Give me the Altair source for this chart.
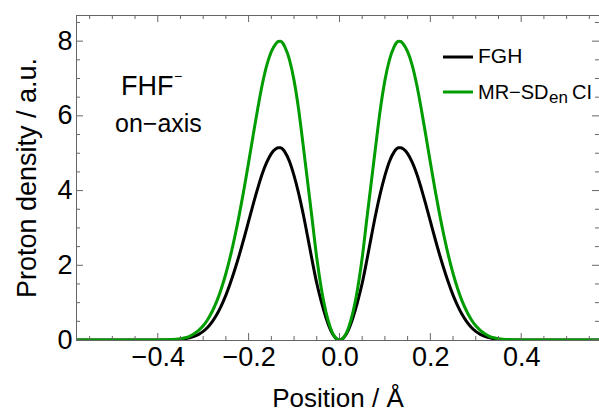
import altair as alt
import pandas as pd

# On-axis proton density, right half (x >= 0); the profile is symmetric about x = 0
half_pos = [0.00, 0.01, 0.02, 0.03, 0.04, 0.05, 0.06, 0.07, 0.08, 0.09,
            0.10, 0.11, 0.12, 0.125, 0.13, 0.135, 0.14, 0.15, 0.16, 0.17,
            0.18, 0.19, 0.20, 0.21, 0.22, 0.23, 0.24, 0.25, 0.26, 0.27,
            0.28, 0.29, 0.30, 0.31, 0.32, 0.33, 0.34, 0.35, 0.36, 0.38,
            0.40, 0.45, 0.50, 0.58]
fgh_half = [0.00, 0.07, 0.28, 0.61, 1.03, 1.52, 2.12, 2.76, 3.38, 3.93,
            4.40, 4.78, 5.03, 5.11, 5.145, 5.148, 5.12, 4.99, 4.76, 4.45,
            4.06, 3.63, 3.18, 2.73, 2.30, 1.90, 1.53, 1.20, 0.92, 0.68,
            0.49, 0.34, 0.23, 0.15, 0.095, 0.058, 0.034, 0.019, 0.010, 0.003,
            0.001, 0.0, 0.0, 0.0]
mrci_half = [0.00, 0.08, 0.33, 0.76, 1.38, 2.20, 3.22, 4.22, 5.22, 6.18,
             6.95, 7.50, 7.84, 7.95, 8.00, 7.99, 7.93, 7.72, 7.36, 6.84,
             6.19, 5.48, 4.76, 4.05, 3.39, 2.79, 2.25, 1.78, 1.38, 1.04,
             0.77, 0.55, 0.38, 0.26, 0.17, 0.10, 0.06, 0.035, 0.02, 0.006,
             0.002, 0.0, 0.0, 0.0]

x_major = [-0.4, -0.2, 0.0, 0.2, 0.4]
x_minor = [-0.55, -0.5, -0.45, -0.35, -0.3, -0.25, -0.15, -0.1, -0.05,
           0.05, 0.1, 0.15, 0.25, 0.3, 0.35, 0.45, 0.5, 0.55]
y_major = [0, 2, 4, 6, 8]
y_minor = [0.5, 1, 1.5, 2.5, 3, 3.5, 4.5, 5, 5.5, 6.5, 7, 7.5, 8.5]

W, H = 523, 325
FONT = "Liberation Sans"
FRAME = "#666666"
GREEN = "#009c00"


def full_profile(half_x, half_y):
    xs = [-v for v in reversed(half_x[1:])] + half_x
    ys = list(reversed(half_y[1:])) + half_y
    return pd.DataFrame({"pos": xs, "density": ys})


fgh = full_profile(half_pos, fgh_half)
mrci = full_profile(half_pos, mrci_half)

xscale = alt.Scale(domain=[-0.58, 0.5713], nice=False, zero=False)
yscale = alt.Scale(domain=[0, 8.7], nice=False, zero=False)

x_axis = alt.Axis(values=x_major, format=".1f", title="Position / Å",
                  ticks=False, domain=False, grid=False, labelFlush=False,
                  labelOverlap=False, labelPadding=4, titlePadding=15,
                  titleFontSize=26)
y_axis = alt.Axis(values=y_major, format="d", title="Proton density / a.u.",
                  ticks=False, domain=False, grid=False, labelFlush=False,
                  labelOverlap=False, labelPadding=4, titlePadding=15)


def X(field):
    return alt.X(field, scale=xscale, axis=x_axis)


def Y(field):
    return alt.Y(field, scale=yscale, axis=y_axis)


fgh_line = alt.Chart(fgh).mark_line(
    color="black", strokeWidth=3, interpolate="monotone", clip=True
).encode(x=X("pos:Q"), y=Y("density:Q"))
mrci_line = alt.Chart(mrci).mark_line(
    color=GREEN, strokeWidth=3, interpolate="monotone", clip=True
).encode(x=X("pos:Q"), y=Y("density:Q"))

one = pd.DataFrame({"k": [0]})

# Frame on left, top and bottom
frame = [
    alt.Chart(one).mark_rule(color=FRAME, strokeWidth=1).encode(
        x=alt.value(0), x2=alt.value(W), y=alt.value(0.5)),
    alt.Chart(one).mark_rule(color=FRAME, strokeWidth=1).encode(
        x=alt.value(0), x2=alt.value(W), y=alt.value(H + 0.5)),
    alt.Chart(one).mark_rule(color=FRAME, strokeWidth=1).encode(
        x=alt.value(0.5), y=alt.value(0), y2=alt.value(H + 1)),
]


def x_ticks(vals, length):
    d = pd.DataFrame({"v": vals})
    bottom = alt.Chart(d).mark_rule(color=FRAME, strokeWidth=1).encode(
        x=X("v:Q"), y=alt.value(H), y2=alt.value(H - length))
    top = alt.Chart(d).mark_rule(color=FRAME, strokeWidth=1).encode(
        x=X("v:Q"), y=alt.value(0), y2=alt.value(length))
    return [bottom, top]


def y_ticks(vals, length):
    d = pd.DataFrame({"v": vals})
    left = alt.Chart(d).mark_rule(color=FRAME, strokeWidth=1).encode(
        y=Y("v:Q"), x=alt.value(0), x2=alt.value(length))
    right = alt.Chart(d).mark_rule(color=FRAME, strokeWidth=1).encode(
        y=Y("v:Q"), x=alt.value(W), x2=alt.value(W - length))
    return [left, right]


ticks = (x_ticks(x_major, 7) + x_ticks(x_minor, 4)
         + y_ticks(y_major, 7) + y_ticks(y_minor, 4))


def label(text, x, y, size, align="left", color="black"):
    return alt.Chart(one).mark_text(
        text=text, font=FONT, fontSize=size, align=align,
        baseline="alphabetic", color=color
    ).encode(x=alt.value(x), y=alt.value(y))


annotations = [
    label("FHF", 45, 80, 27),
    label("−", 98, 66, 14),
    label("on−axis", 39, 117, 25),
    # legend
    alt.Chart(one).mark_rule(color="black", strokeWidth=3).encode(
        x=alt.value(367), x2=alt.value(397), y=alt.value(42)),
    alt.Chart(one).mark_rule(color=GREEN, strokeWidth=3).encode(
        x=alt.value(367), x2=alt.value(397), y=alt.value(77)),
    label("FGH", 402, 48, 21),
    label("MR−SD", 402, 84, 20),
    label("en", 473, 88, 17),
    label("CI", 496, 84, 20),
]

chart = alt.layer(
    fgh_line, mrci_line, *frame, *ticks, *annotations
).properties(
    width=W, height=H,
    padding={"left": 76, "top": 15, "right": 0, "bottom": 74},
    autosize="none",
).configure_view(
    strokeWidth=0
).configure_axis(
    labelFont=FONT, titleFont=FONT, labelColor="black", titleColor="black",
    labelFontSize=27, titleFontSize=27, titleFontWeight="normal",
)

chart.save("out.html", embed_options={"renderer": "svg", "actions": False})
